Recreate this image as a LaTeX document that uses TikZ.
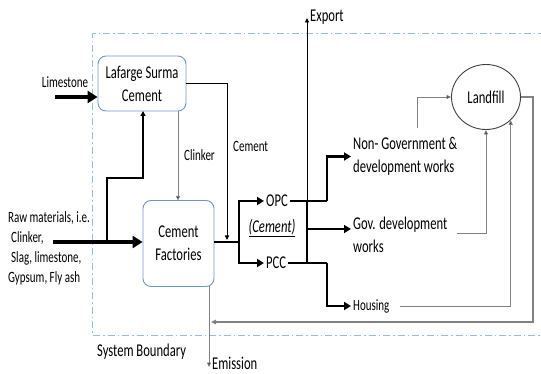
\documentclass[tikz,border=0pt]{standalone}
\usepackage{fontspec}
\setmainfont{Carlito}[FakeStretch=0.7]
\usetikzlibrary{arrows.meta,shapes.geometric}
\definecolor{boxblue}{RGB}{110,150,195}
\definecolor{bnd}{RGB}{150,190,228}
\definecolor{lgray}{RGB}{130,130,130}
\tikzset{
  procbox/.style={draw=boxblue, line width=0.9pt, rounded corners=8pt, align=center,
    font=\fontsize{18}{23}\selectfont, inner sep=0pt},
  small/.style={font=\fontsize{15.7}{20}\selectfont, inner sep=2pt},
  big/.style={font=\fontsize{18}{23}\selectfont, inner sep=2pt, align=left},
  fat/.style={line width=3.6pt, -{Triangle[length=10pt,width=12pt]}},
  midline/.style={line width=1.8pt},
  midarrow/.style={midline, -{Triangle[length=5pt,width=5pt]}},
  outline/.style={line width=2.5pt},
  outarrow/.style={outline, -{Triangle[length=7pt,width=8pt]}},
  thinblack/.style={line width=0.9pt, -{Triangle[length=4.5pt,width=4pt]}},
  thingray/.style={draw=lgray, line width=0.8pt, -{Triangle[length=4.5pt,width=4pt,fill=black]}},
}
\begin{document}
\begin{tikzpicture}[x=1pt,y=-1pt]
\useasboundingbox (0,0) rectangle (541,374);
% system boundary
\draw[bnd, line width=1pt, dash pattern=on 7pt off 3pt on 1.5pt off 3pt]
  (545,34) -- (92.5,34) -- (92.5,335) -- (545,335);
\node[big, anchor=west] (sb) at (95,352) {System Boundary};

% boxes
\node[procbox, minimum width=88pt, minimum height=55pt] (lafarge) at (142,83.5) {Lafarge Surma\\Cement};
\node[procbox, minimum width=71pt, minimum height=86pt] (cf) at (178.5,243.5) {Cement\\Factories};
\node[draw=black!75, line width=0.9pt, ellipse, minimum width=69pt, minimum height=65pt,
  font=\fontsize{18}{20}\selectfont, inner sep=0pt] (landfill) at (486,97) {Landfill};

% labels
\node[small] (limestone) at (65,82) {Limestone};
\node[small, anchor=west, align=left] (raw) at (6,248.5)
  {Raw materials, i.e.\\\hspace*{3pt}Clinker,\\\hspace*{3pt}Slag, limestone,\\Gypsum, Fly ash};
\node[small, anchor=west] (clinkerlbl) at (182,155) {Clinker};
\node[small, anchor=west] (cementlbl) at (231,146) {Cement};
\node[big, anchor=west] (opc) at (264,201) {OPC};
\node[big, anchor=west] (pcc) at (264,263) {PCC};
\node[big] (cemlbl) at (272,228) {\underline{\textit{(Cement)}}};
\node[big, anchor=west] (nongov) at (351,156.5) {Non- Government \&\\development works};
\node[big, anchor=west] (gov) at (351,234.5) {Gov. development\\works};
\node[small, anchor=west] (housing) at (351,306) {Housing};
\node[big, anchor=west] (export) at (308,17) {Export};
\node[big, anchor=west, inner sep=0pt] (emission) at (212,363) {Emission};

% coordinates
\coordinate (limestart) at (55,97);
\coordinate (rawstart) at (53,242);
\coordinate (rawsplit) at (107,242);
\coordinate (rawup) at (107,178);
\coordinate (lafin) at (143,111);
\coordinate (clkout) at (178,111);
\coordinate (clkin) at (178,200.5);
\coordinate (cemin) at (227,240);
\coordinate (cfout) at (214,242);
\coordinate (j1) at (239,242);
\coordinate (vtop) at (307,201);
\coordinate (vmid) at (307,229);
\coordinate (vbot) at (307,263);
\coordinate (ngturn) at (327,201);
\coordinate (hsturn) at (327,263);
\coordinate (exptip) at (307,18);
\coordinate (ngstart) at (417,128);
\coordinate (ret) at (211,322);
\coordinate (emstart) at (209,286);
\coordinate (emtip) at (209,367);

% inputs
\draw[fat] (limestart) -- (limestart -| lafarge.west);
\draw[fat] (rawstart) -- (rawstart -| cf.west);
\draw[midarrow] (rawsplit) -- (rawup) -| (lafin);
% clinker and cement
\draw[thingray] (clkout) -- (clkin);
\draw[thinblack] (lafarge.east) -| (cemin);
% factory outputs
\draw[outline] (cfout) -- (j1);
\draw[outarrow] (j1) |- (opc.west);
\draw[outarrow] (j1) |- (pcc.west);
\draw[outline] (opc.east) -- (ngturn);
\draw[outline] (pcc.east) -- (hsturn);
\draw[outline] (vtop) -- (vbot);
\draw[thinblack] (vtop) -- (exptip);
\draw[outarrow] (ngturn) |- (nongov.west);
\draw[outarrow] (vmid) -- (vmid -| nongov.west);
\draw[outarrow] (hsturn) |- (housing.west);
% landfill flows
\draw[thingray] (ngstart) |- (landfill.west);
\draw[thingray] ([xshift=8pt,yshift=1pt]gov.east) -| (landfill.south);
\draw[thingray] ([xshift=8pt]housing.east) -| (landfill.south east);
\draw[draw=lgray, line width=1.3pt, -{Triangle[length=5pt,width=4.5pt,fill=black]}]
  (landfill.east) -- ++(12,0) |- (ret);
% emission
\draw[thingray] (emstart) -- (emtip);
\end{tikzpicture}
\end{document}
